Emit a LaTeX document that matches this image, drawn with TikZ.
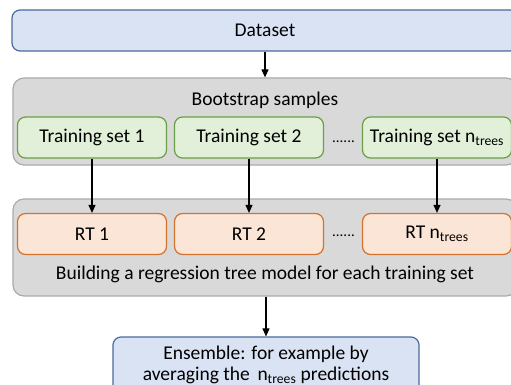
\documentclass[tikz,border=0pt]{standalone}
\usepackage{fontspec}
\setmainfont{Carlito}
\usepackage{xcolor}
\usetikzlibrary{arrows.meta}
\definecolor{dataFill}{HTML}{DAE3F3}
\definecolor{dataLine}{HTML}{4A6B9A}
\definecolor{grayFill}{HTML}{D9D9D9}
\definecolor{grayLine}{HTML}{ABABAB}
\definecolor{trainFill}{HTML}{E2F0D9}
\definecolor{trainLine}{HTML}{6A9F45}
\definecolor{rtFill}{HTML}{FBE5D6}
\definecolor{rtLine}{HTML}{D2722E}
\tikzset{
  box/.style={rounded corners=8pt, line width=1.2pt, inner sep=0pt,
    font=\fontsize{19.5}{21}\selectfont},
  databox/.style={box, draw=dataLine, fill=dataFill},
  graybox/.style={box, draw=grayLine, fill=grayFill, rounded corners=11pt},
  trainbox/.style={box, draw=trainLine, fill=trainFill, minimum width=149pt, minimum height=41pt},
  rtbox/.style={box, draw=rtLine, fill=rtFill, minimum width=149pt, minimum height=41pt},
  caption/.style={inner sep=0pt, font=\fontsize{19.5}{21}\selectfont},
  dots/.style={inner sep=0pt, font=\fontsize{15}{16}\selectfont},
  flow/.style={-{Triangle[length=8pt,width=7pt]}, line width=1.1pt}
}

\begin{document}
\begin{tikzpicture}[x=1pt,y=-1pt]
    \useasboundingbox (0,0) rectangle (511,385);
    \clip (0,0) rectangle (511,385);
    % Dataset
    \node[databox, minimum width=506pt, minimum height=41pt] (dataset) at (265,30.5) {Dataset};
    % Bootstrap samples
    \node[graybox, minimum width=504pt, minimum height=87pt] (boot) at (265,121.5) {};
    \node[caption] (bootTitle) at (265,100) {Bootstrap samples};
    \node[trainbox] (train1) at (92,137.5) {Training set 1};
    \node[trainbox] (train2) at (249,137.5) {Training set 2};
    \node[trainbox] (trainN) at (437,137.5) {Training set n\textsubscript{trees}};
    \node[dots] (trainDots) at (343.5,141.5) {......};
    % Regression trees
    \node[graybox, minimum width=504pt, minimum height=97pt] (build) at (265,247.5) {};
    \node[rtbox] (rt1) at (92,234) {RT 1};
    \node[rtbox] (rt2) at (249,234) {RT 2};
    \node[rtbox] (rtN) at (437,234) {RT n\textsubscript{trees}};
    \node[dots] (rtDots) at (343.5,235.5) {......};
    \node[caption] (buildTitle) at (265,274) {Building a regression tree model for each training set};
    % Ensemble (runs past the lower edge)
    \node[databox, minimum width=306pt, minimum height=73pt, align=center] (ensemble) at (266,373.5)
        {Ensemble: for example by\\averaging the\, n\textsubscript{trees} predictions\\ };
    % Arrows
    \draw[flow] (dataset) -- (boot);
    \draw[flow] (train1) -- (rt1);
    \draw[flow] (train2) -- (rt2);
    \draw[flow] (trainN) -- (rtN);
    \draw[flow] (build.south -| ensemble.north) -- (ensemble);
\end{tikzpicture}
\end{document}
